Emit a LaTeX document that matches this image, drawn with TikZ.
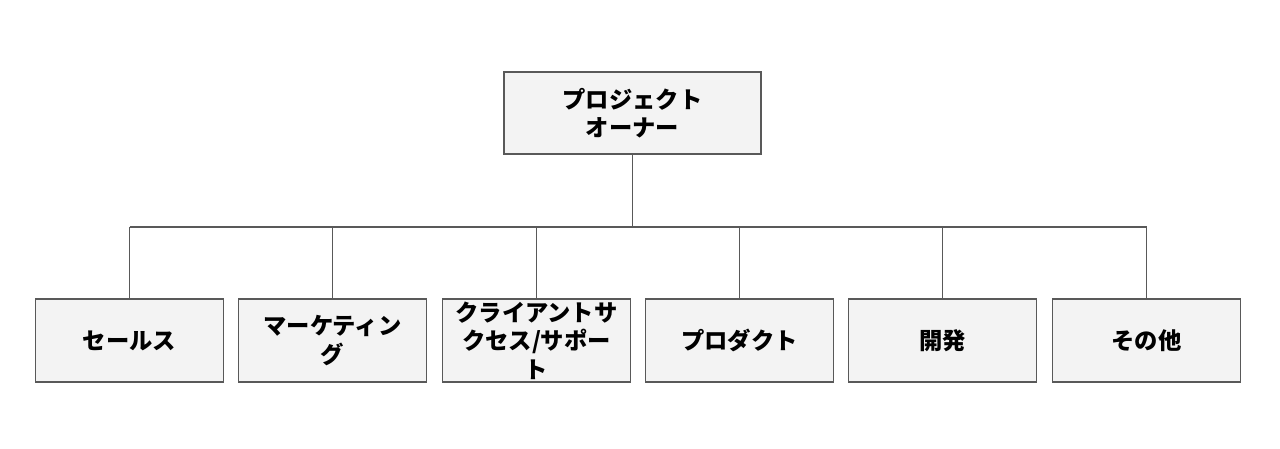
\documentclass[tikz,border=0pt]{standalone}
\usepackage{fontspec}
\newfontfamily\jp{Noto Sans CJK JP}
\definecolor{boxfill}{HTML}{F3F3F3}
\definecolor{boxline}{HTML}{595959}
\definecolor{conn}{HTML}{595959}
\begin{document}
\begin{tikzpicture}[x=1pt,y=-1pt,
  orgbox/.style={draw=boxline,fill=boxfill,line width=1.6pt,inner sep=0pt,
    minimum width=188pt,minimum height=83pt,align=center,
    font=\jp\bfseries\fontsize{23.3}{28.5}\selectfont,text=black},
  topbox/.style={orgbox,minimum width=257pt,minimum height=82pt},
  link/.style={draw=conn,line width=1.6pt}]
\useasboundingbox (0,0) rectangle (1280,448);
\node[topbox] (top) at (632.5,113) {プロジェクト\\オーナー};
\node[orgbox] (b1) at (129.5,340.5) {セールス};
\node[orgbox] (b2) at (332.5,340.5) {マーケティン\\グ};
\node[orgbox] (b3) at (536.5,340.5) {クライアントサ\\クセス/サポー\\ト};
\node[orgbox] (b4) at (739.5,340.5) {プロダクト};
\node[orgbox] (b5) at (942.5,340.5) {開発};
\node[orgbox] (b6) at (1146.5,340.5) {その他};
\coordinate (bus) at (632.5,227);
\draw[link] (top.south) -- (bus);
\foreach \b in {b1,b2,b3,b4,b5,b6}{
  \draw[link] (\b.north) -- (\b.north |- bus);
}
\draw[link] (b1.north |- bus) -- (b6.north |- bus);
\end{tikzpicture}
\end{document}
